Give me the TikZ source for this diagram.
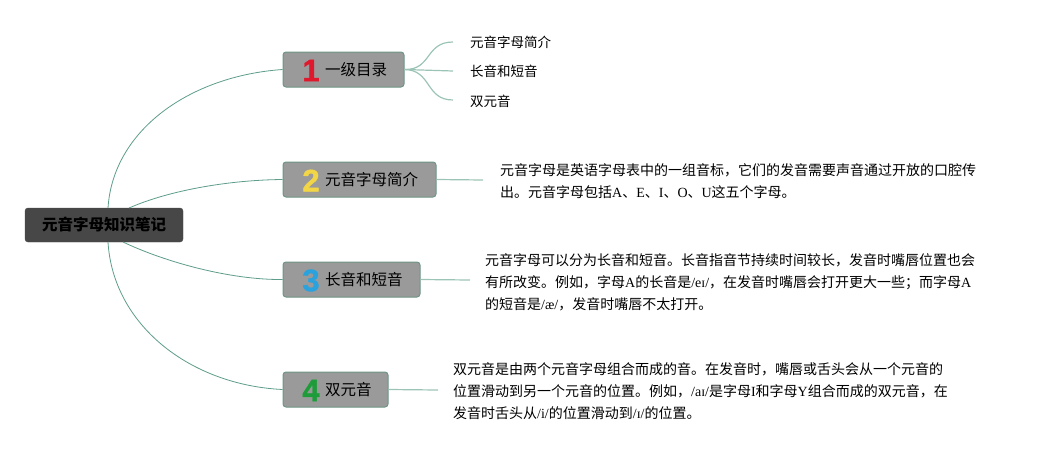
\documentclass[tikz,border=0pt]{standalone}
\usepackage{fontspec}
\setmainfont{Noto Sans CJK SC}
\newfontfamily\lat{Liberation Serif}
\newfontfamily\digitfont[FakeBold=1.2]{Liberation Sans Bold}
\definecolor{rootfill}{HTML}{474747}
\definecolor{boxfill}{HTML}{9A9A9A}
\definecolor{boxline}{HTML}{6E9585}
\definecolor{linkc}{HTML}{5E9C8C}
\definecolor{sublinkc}{HTML}{9CC4B6}
\definecolor{dred}{HTML}{E0182D}
\definecolor{dyellow}{HTML}{F2D646}
\definecolor{dblue}{HTML}{2AA2DE}
\definecolor{dgreen}{HTML}{1E9C3A}
\tikzset{
  rootbox/.style={fill=rootfill,draw=rootfill,rounded corners=3pt,minimum width=158pt,minimum height=34pt,inner sep=0pt,font=\fontsize{15.5}{18}\selectfont\bfseries,text=black},
  topicbox/.style={fill=boxfill,draw=boxline,line width=1pt,rounded corners=3pt,minimum height=35pt,inner sep=0pt},
  digitlbl/.style={inner sep=0pt,font=\digitfont\fontsize{31}{31}\selectfont},
  topiclbl/.style={inner sep=0pt,anchor=west,font=\fontsize{15.5}{18}\selectfont,text=black},
  sublbl/.style={inner sep=0pt,anchor=west,font=\fontsize{13.5}{16}\selectfont,text=black},
  desclbl/.style={inner sep=0pt,anchor=west,align=left,font=\fontsize{14}{22}\selectfont,text=black},
  rootlink/.style={draw=linkc,line width=0.8pt},
  sublink/.style={draw=sublinkc,line width=1.2pt},
}
\begin{document}
\begin{tikzpicture}[x=1pt,y=-1pt]
\useasboundingbox (0,0) rectangle (1061,450);
% root
\node[rootbox] (root) at (104,225) {元音字母知识笔记};
% topic boxes
\node[topicbox,minimum width=121pt] (b1) at (343.5,69.5) {};
\node[topicbox,minimum width=153pt] (b2) at (359.5,179.5) {};
\node[topicbox,minimum width=137pt] (b3) at (351.5,279.5) {};
\node[topicbox,minimum width=105pt] (b4) at (335.5,389.5) {};
\node[digitlbl,text=dred] (n1) at (311,70.5) {1};
\node[digitlbl,text=dyellow] (n2) at (311,180.5) {2};
\node[digitlbl,text=dblue] (n3) at (311,280.5) {3};
\node[digitlbl,text=dgreen] (n4) at (311,390.5) {4};
\node[topiclbl] (t1) at (325,70) {一级目录};
\node[topiclbl] (t2) at (325,180) {元音字母简介};
\node[topiclbl] (t3) at (325,280) {长音和短音};
\node[topiclbl] (t4) at (325,390) {双元音};
% root links
\coordinate (r1) at (108,208);
\coordinate (r2) at (129,208);
\coordinate (r3) at (123,242);
\coordinate (r4) at (108,242);
\draw[rootlink] (r1) .. controls (113,130) and (190,76) .. (b1.west);
\draw[rootlink] (r2) .. controls (170,190) and (230,180) .. (b2.west);
\draw[rootlink] (r3) .. controls (165,262) and (230,280) .. (b3.west);
\draw[rootlink] (r4) .. controls (113,325) and (190,385) .. (b4.west);
% sub items of topic 1
\coordinate (s1) at (453,42);
\coordinate (s2) at (453,71);
\coordinate (s3) at (453,100);
\draw[sublink] (b1.east) .. controls (432,70) and (425,42) .. (s1);
\draw[sublink] (b1.east) -- (s2);
\draw[sublink] (b1.east) .. controls (432,70) and (425,100) .. (s3);
\node[sublbl] (i1) at (470,42) {元音字母简介};
\node[sublbl] (i2) at (470,71.5) {长音和短音};
\node[sublbl] (i3) at (470,101) {双元音};
% description links
\coordinate (d2) at (483,180);
\coordinate (d3) at (470,280);
\coordinate (d4) at (438,390);
\draw[sublink] (b2.east) -- (d2);
\draw[sublink] (b3.east) -- (d3);
\draw[sublink] (b4.east) -- (d4);
\node[desclbl] (e2) at (500,181.5) {元音字母是英语字母表中的一组音标，它们的发音需要声音通过开放的口腔传\\出。元音字母包括{\lat A}、{\lat E}、{\lat I}、{\lat O}、{\lat U}这五个字母。};
\node[desclbl] (e3) at (485,282) {元音字母可以分为长音和短音。长音指音节持续时间较长，发音时嘴唇位置也会\\有所改变。例如，字母{\lat A}的长音是{\lat /eɪ/}，在发音时嘴唇会打开更大一些；而字母{\lat A}\\的短音是{\lat /æ/}，发音时嘴唇不太打开。};
\node[desclbl] (e4) at (453,391.5) {双元音是由两个元音字母组合而成的音。在发音时，嘴唇或舌头会从一个元音的\\位置滑动到另一个元音的位置。例如，{\lat /aɪ/}是字母{\lat I}和字母{\lat Y}组合而成的双元音，在\\发音时舌头从{\lat /i/}的位置滑动到{\lat /ɪ/}的位置。};
\end{tikzpicture}
\end{document}
